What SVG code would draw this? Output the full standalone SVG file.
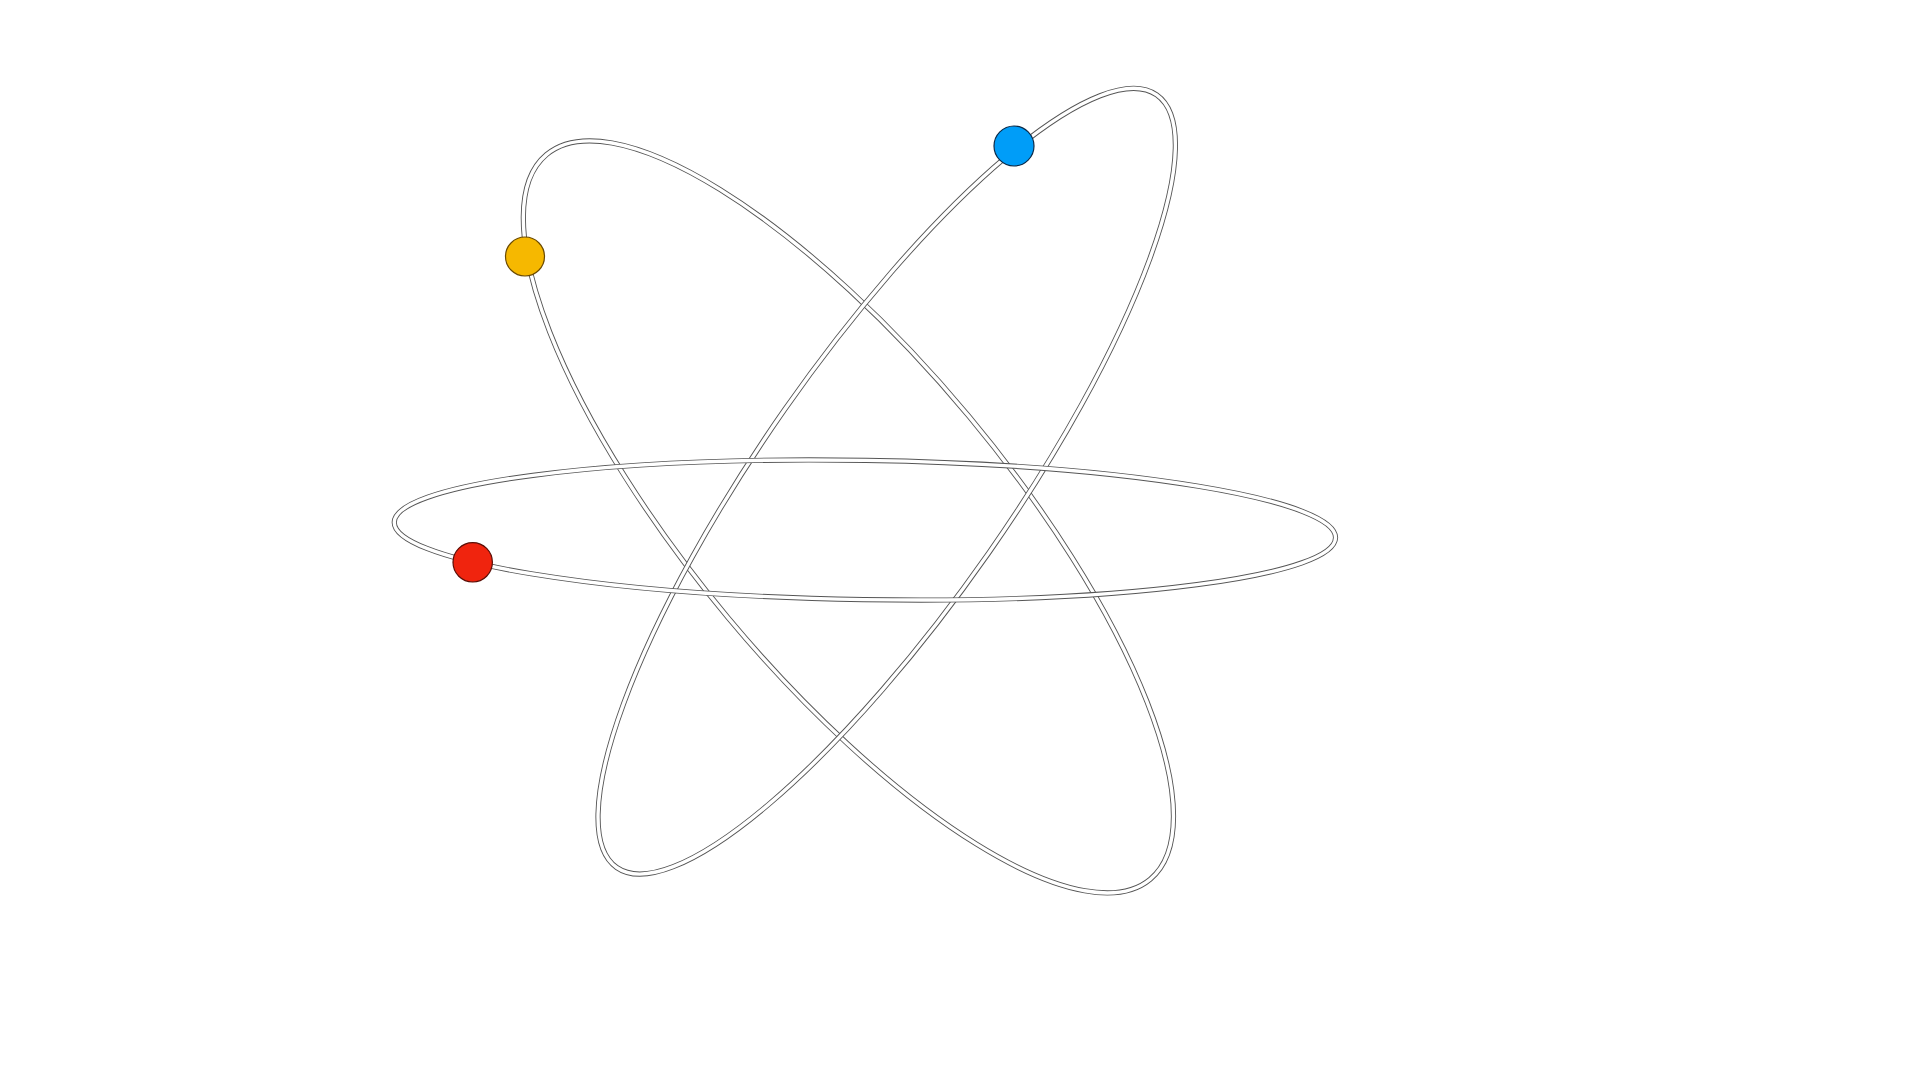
<svg xmlns="http://www.w3.org/2000/svg" width="1920" height="1080" viewBox="0 0 1920 1080">
  <style>
    .orbit-edge { fill: none; stroke: #555555; stroke-width: 5.2; }
    .orbit-core { fill: none; stroke: #ffffff; stroke-width: 3.4; }
    .electron { stroke-width: 1.2; }
  </style>
  <defs>
    <ellipse id="o1" cx="0" cy="0" rx="471.6" ry="157"/>
    <ellipse id="o2" cx="0" cy="0" rx="471.3" ry="124.7"/>
    <ellipse id="o3" cx="0" cy="0" rx="470.7" ry="69.6"/>
  </defs>
  <rect width="1920" height="1080" fill="#ffffff"/>
  <g id="orbits">
    <g id="orbit-1" transform="translate(848.4 516.9) rotate(50.2)">
      <use href="#o1" class="orbit-edge"/>
      <use href="#o1" class="orbit-core"/>
    </g>
    <g id="orbit-2" transform="translate(886.7 481.2) rotate(-55.05)">
      <use href="#o2" class="orbit-edge"/>
      <use href="#o2" class="orbit-core"/>
    </g>
    <g id="orbit-3" transform="translate(864.9 530) rotate(0.94)">
      <use href="#o3" class="orbit-edge"/>
      <use href="#o3" class="orbit-core"/>
    </g>
  </g>
  <g id="electron-yellow">
    <circle class="electron" cx="525" cy="256.5" r="19.5" fill="#F6B800" stroke="#6b4a00"/>
  </g>
  <g id="electron-blue">
    <circle class="electron" cx="1014" cy="146" r="20" fill="#009DF8" stroke="#0b2a48"/>
  </g>
  <g id="electron-red">
    <circle class="electron" cx="472.7" cy="562.3" r="19.7" fill="#F0240E" stroke="#5a0e06"/>
  </g>
</svg>
